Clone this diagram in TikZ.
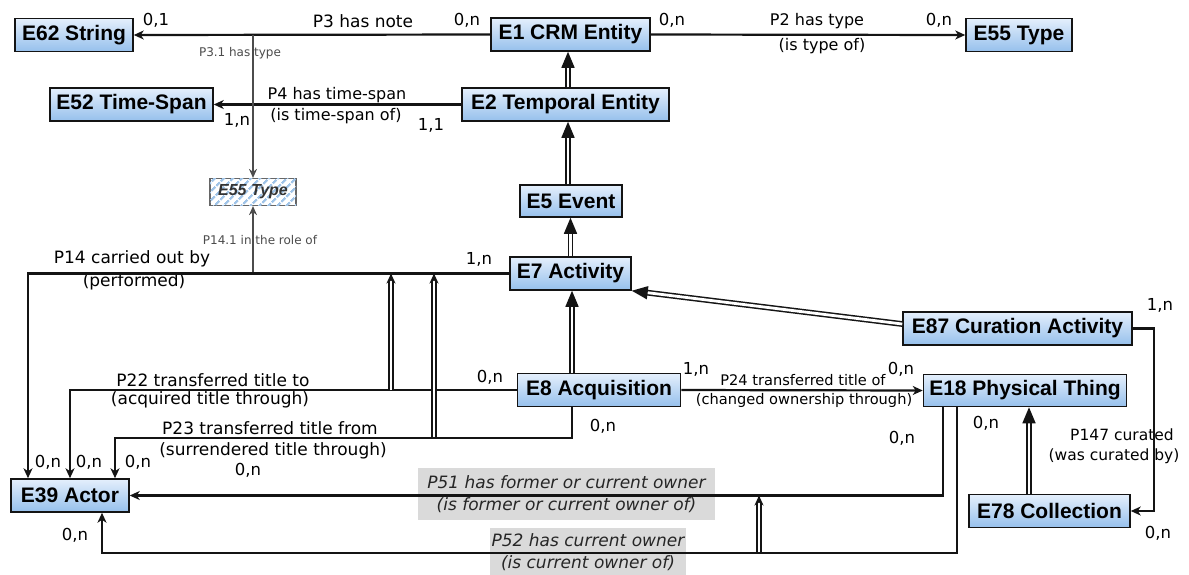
\documentclass[tikz,border=0pt]{standalone}
\usepackage{fontspec}
\setmainfont{DejaVu Sans}
\newfontfamily\boxfont{Liberation Sans}
\usetikzlibrary{arrows.meta,patterns.meta,calc}

\definecolor{boxtop}{RGB}{228,239,252}
\definecolor{boxbot}{RGB}{150,192,236}
\definecolor{lblgray}{RGB}{218,218,218}
\definecolor{ink}{RGB}{20,20,20}
\definecolor{hatch}{RGB}{160,196,232}

\tikzset{
 ent/.style={draw=ink, line width=1.5pt, top color=boxtop, bottom color=boxbot, minimum height=33pt, inner sep=0pt, font=\boxfont\bfseries\fontsize{21}{24}\selectfont, text=black},
 conn/.style={draw=ink, line width=2.2pt},
 arr/.style={conn, -{Stealth[length=10pt,width=9pt,inset=3pt]}},
 thinarr/.style={draw=black!70, line width=1.4pt, -{Stealth[length=9pt,width=8pt,inset=3pt]}},
 inh/.style={draw=ink, line width=1.5pt, double=white, double distance=2.8pt, -{Triangle[length=16pt,width=13pt]}},
 subp/.style={draw=ink, line width=1.5pt, double=white, double distance=2.8pt, -{Stealth[length=10pt,width=9pt,inset=3pt]}},
 lbl/.style={font=\fontsize{17}{19}\selectfont, inner sep=0pt},
 lblm/.style={font=\fontsize{16}{18}\selectfont, inner sep=0pt},
 lbls/.style={font=\fontsize{14.6}{16}\selectfont, inner sep=0pt},
 lblc/.style={font=\fontsize{15.5}{17}\selectfont, inner sep=0pt},
 mult/.style={font=\fontsize{16.5}{18}\selectfont, inner sep=0pt},
 small/.style={font=\fontsize{12}{14}\selectfont, text=black!70, inner sep=0pt},
 glbl/.style={fill=lblgray, font=\itshape\fontsize{17}{21.5}\selectfont, align=center, inner sep=0pt, text=black!85},
}

\begin{document}
\begin{tikzpicture}[x=1pt,y=-1pt]
\fill[white] (0,0) rectangle (1189,574);
\useasboundingbox (0,0) rectangle (1189,574);

% entities
\node[ent, minimum width=118pt] (E62) at (74,35) {E62 String};
\node[ent, minimum width=159pt] (E1) at (570.5,34.5) {E1 CRM Entity};
\node[ent, minimum width=106pt] (E55) at (1019,35) {E55 Type};
\node[ent, minimum width=163pt] (E52) at (131.5,104.5) {E52 Time-Span};
\node[ent, minimum width=207pt] (E2) at (565.5,104.5) {E2 Temporal Entity};
\node[draw=black!60, line width=1.2pt, fill=white, minimum width=86pt, minimum height=27pt, inner sep=0pt,
      postaction={pattern={Lines[angle=45,distance=6.5pt,line width=2.6pt]}, pattern color=hatch}] (E55h) at (253,192) {};
\node[font=\boxfont\bfseries\itshape\fontsize{16}{18}\selectfont, text=black!80, inner sep=0pt] (E55ht) at (E55h) {E55 Type};
\node[ent, minimum width=102pt, minimum height=32pt] (E5) at (571,201) {E5 Event};
\node[ent, minimum width=121pt] (E7) at (570.5,273.5) {E7 Activity};
\node[ent, minimum width=229pt] (E87) at (1017.5,328.5) {E87 Curation Activity};
\node[ent, minimum width=163pt] (E8) at (599,390) {E8 Acquisition};
\node[ent, minimum width=203pt, minimum height=32pt] (E18) at (1025,390.5) {E18 Physical Thing};
\node[ent, minimum width=118pt] (E39) at (70,495.5) {E39 Actor};
\node[ent, minimum width=161pt] (E78) at (1049.5,511) {E78 Collection};

% grey property labels (under the lines)
\node[glbl, minimum width=297pt, minimum height=52pt] (l51) at (566.5,494) {P51 has former or current owner\\(is former or current owner of)};
\node[glbl, minimum width=196pt, minimum height=48pt] (l52) at (588,552) {P52 has current owner\\(is current owner of)};

% labels
\node[lbl] (l3) at (363,21) {P3 has note};
\node[mult] (m1) at (467,20) {0,n};
\node[mult] (m2) at (156,20) {0,1};
\node[small] (l31) at (240,53) {P3.1 has type};
\node[mult] (m3) at (672,20) {0,n};
\node[lblm] (l2a) at (817,21) {P2 has type};
\node[lblm] (l2b) at (822,46) {(is type of)};
\node[mult] (m4) at (939,20) {0,n};
\node[lblm] (l4a) at (337,95) {P4 has time-span};
\node[lblm] (l4b) at (336,116) {(is time-span of)};
\node[mult] (m5) at (237,120) {1,n};
\node[mult] (m6) at (431,125) {1,1};
\node[small] (l141) at (260,240) {P14.1 in the role of};
\node[lbl] (l14a) at (132,259) {P14 carried out by};
\node[lbl] (l14b) at (134,282) {(performed)};
\node[mult] (m7) at (479,259) {1,n};
\node[lbl] (l22a) at (213,380) {P22 transferred title to};
\node[lbl] (l22b) at (210,400) {(acquired title through)};
\node[mult] (m8) at (490,377) {0,n};
\node[mult] (m9) at (696,369) {1,n};
\node[lbls] (l24a) at (803,380) {P24 transferred title of};
\node[lbls] (l24b) at (804,400) {(changed ownership through)};
\node[mult] (m10) at (901,369) {0,n};
\node[lbl] (l23a) at (270,428) {P23 transferred title from};
\node[lbl] (l23b) at (273,451) {(surrendered title through)};
\node[mult] (m11) at (248,470) {0,n};
\node[mult] (m12) at (48,462) {0,n};
\node[mult] (m13) at (89,462) {0,n};
\node[mult] (m14) at (138,462) {0,n};
\node[mult] (m15) at (603,426) {0,n};
\node[mult] (m16) at (75,535) {0,n};
\node[mult] (m17) at (902,438) {0,n};
\node[mult] (m18) at (986,423) {0,n};
\node[lblc] (l147a) at (1122,435) {P147 curated};
\node[lblc] (l147b) at (1114,456) {(was curated by)};
\node[mult] (m19) at (1160,305) {1,n};
\node[mult] (m20) at (1158,533) {0,n};

% attachment coordinates
\coordinate (a39a) at ([xshift=-42pt]E39.north);
\coordinate (a39c) at ([xshift=45pt]E39.north);
\coordinate (a39s) at ([xshift=32pt]E39.south);
\coordinate (a8s) at ([xshift=-27pt]E8.south);
\coordinate (a8n) at ([xshift=-27pt]E8.north);
\coordinate (a18a) at ([xshift=-82pt]E18.south);
\coordinate (a18b) at ([xshift=-68pt]E18.south);
\coordinate (p31) at (E55h.north |- E1.west);
\coordinate (p141) at (E55h.south |- E7.west);
\coordinate (s1a) at (391,390);
\coordinate (s1b) at (391,273.5);
\coordinate (s2a) at (434,437);
\coordinate (s2b) at (434,273.5);
\coordinate (s3a) at (759,552);
\coordinate (s3b) at (759,495.5);

% properties
\draw[arr] (E1.west) -- (E62.east);
\draw[arr] (E1.east) -- (E55.west);
\draw[arr] (E2.west) -- (E52.east);
\draw[thinarr] (p31) -- (E55h.north);
\draw[thinarr] (p141) -- (E55h.south);
\draw[arr] (E7.west) -| (a39a);
\draw[arr] (E8.west) -| (E39.north);
\draw[arr] (a8s) -- ++(0,31) -| (a39c);
\draw[arr] (E8.east) -- (E18.west);
\draw[arr] (a18a) |- (E39.east);
\draw[arr] (a18b) -- ++(0,146) -| (a39s);
\draw[arr] (E87.east) -- ++(21,0) |- (E78.east);

% sub-properties
\draw[subp] (s1a) -- (s1b);
\draw[subp] (s2a) -- (s2b);
\draw[subp] (s3a) -- (s3b);

% inheritance
\draw[inh] ([xshift=2.5pt]E2.north) -- ([xshift=2.5pt]E2.north |- E1.south);
\draw[inh] ([xshift=-3pt]E5.north) -- ([xshift=-3pt]E5.north |- E2.south);
\draw[inh] (E7.north) -- (E7.north |- E5.south);
\draw[inh] (a8n) -- (a8n |- E7.south);
\draw[inh] ([yshift=4.5pt]E87.west) -- (E7.south east);
\draw[inh] ([xshift=-20.5pt]E78.north) -- ([xshift=-20.5pt]E78.north |- E18.south);
\end{tikzpicture}
\end{document}
